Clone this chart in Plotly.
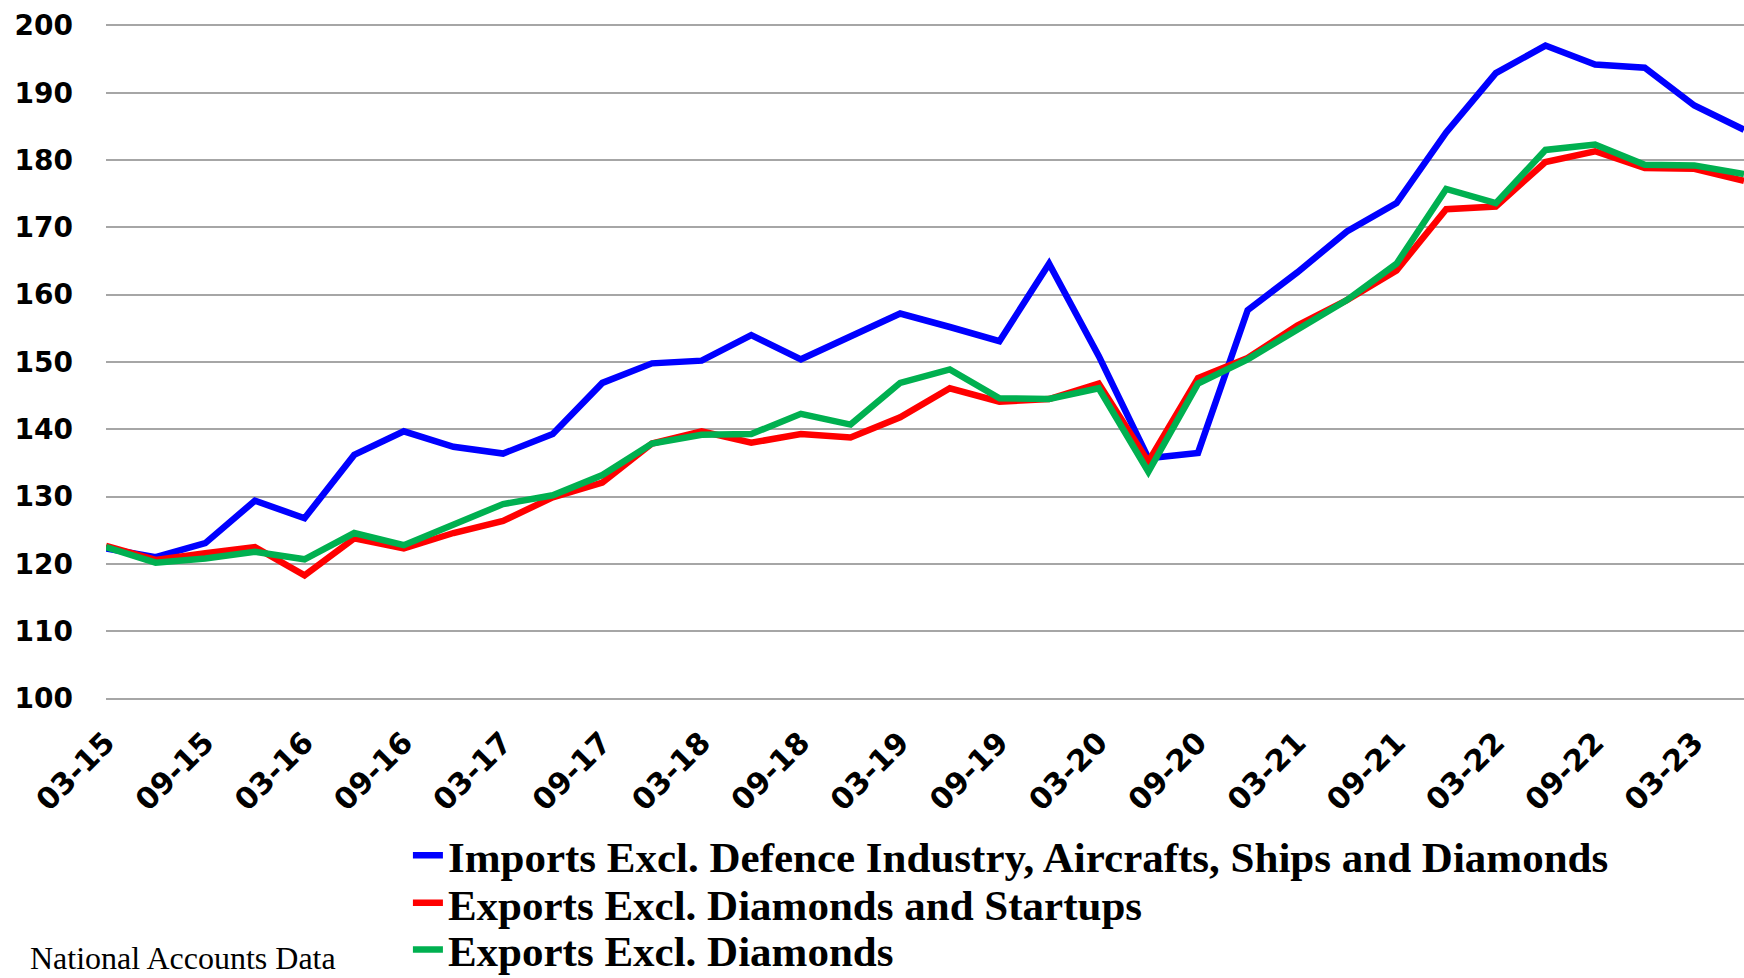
import plotly.graph_objects as go

quarters = ["03-15","06-15","09-15","12-15","03-16","06-16","09-16","12-16",
            "03-17","06-17","09-17","12-17","03-18","06-18","09-18","12-18",
            "03-19","06-19","09-19","12-19","03-20","06-20","09-20","12-20",
            "03-21","06-21","09-21","12-21","03-22","06-22","09-22","12-22",
            "03-23","06-23"]

imports_excl = [122.3,121.0,123.1,129.4,126.8,136.2,139.7,137.4,
                136.4,139.3,146.9,149.8,150.2,154.0,150.4,153.9,
                157.2,155.2,153.1,164.6,150.9,135.7,136.5,157.7,
                163.3,169.4,173.6,184.1,192.9,197.0,194.2,193.7,
                188.1,184.5]

exports_excl_dia_startups = [122.7,120.6,121.6,122.5,118.3,123.8,122.3,124.6,
                             126.4,129.9,132.1,137.9,139.7,138.0,139.3,138.8,
                             141.8,146.1,144.1,144.5,146.8,135.2,147.6,150.6,
                             155.4,159.2,163.6,172.7,173.1,179.7,181.3,178.8,
                             178.7,176.9]

exports_excl_dia = [122.5,120.2,120.8,121.8,120.7,124.6,122.8,125.8,
                    128.9,130.2,133.2,137.9,139.2,139.3,142.3,140.7,
                    146.9,148.9,144.6,144.5,146.1,133.7,146.8,150.4,
                    154.9,159.2,164.6,175.7,173.6,181.5,182.3,179.3,
                    179.2,177.9]

tick_labels = quarters[::2]
y_ticks = list(range(100, 201, 10))

series = [
    ("Imports Excl. Defence Industry, Aircrafts, Ships and Diamonds", imports_excl, "#0000FF", "legend"),
    ("Exports Excl. Diamonds and Startups", exports_excl_dia_startups, "#FF0000", "legend2"),
    ("Exports Excl. Diamonds", exports_excl_dia, "#00B050", "legend3"),
]

fig = go.Figure()
for name, vals, col, lg in series:
    fig.add_trace(go.Scatter(x=quarters, y=vals, mode="lines", name=name,
                             legend=lg, line=dict(color=col, width=6.5)))

legend_font = dict(family="Liberation Serif", size=43, color="black", weight="bold")
def leg(y):
    return dict(x=0.2339, y=y, xref="container", yref="container",
                xanchor="left", yanchor="middle", bgcolor="rgba(0,0,0,0)",
                borderwidth=0, font=legend_font)

fig.update_layout(
    width=1744, height=978,
    margin=dict(l=106, r=0, t=22, b=276, autoexpand=False),
    paper_bgcolor="white", plot_bgcolor="white",
    showlegend=True,
    legend=leg(0.1255),
    legend2=leg(0.0768),
    legend3=leg(0.0290),
    annotations=[dict(text="National Accounts Data", xref="paper", yref="paper",
                      x=-0.0475, y=-0.376, xanchor="left", yanchor="middle",
                      showarrow=False,
                      font=dict(family="Liberation Serif", size=32, color="black"))],
)

fig.update_xaxes(type="category", range=[0, len(quarters) - 1],
                 tickmode="array", tickvals=tick_labels, ticktext=tick_labels,
                 tickangle=-45, showgrid=False, zeroline=False, showline=False,
                 ticks="", ticklabelstandoff=16,
                 tickfont=dict(family="DejaVu Sans", size=30, color="black", weight="bold"))

fig.update_yaxes(range=[99.5, 200.5], tickmode="array", tickvals=y_ticks,
                 showgrid=True, gridcolor="#a6a6a6", gridwidth=1.5,
                 zeroline=False, showline=False, ticks="", ticklabelstandoff=32,
                 tickfont=dict(family="DejaVu Sans", size=28, color="black", weight="bold"))

fig.write_html("out.html")
